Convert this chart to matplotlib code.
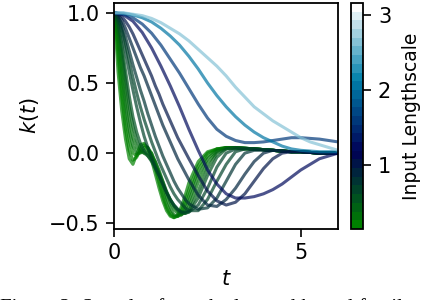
import matplotlib
matplotlib.use("Agg")
import matplotlib.pyplot as plt
from matplotlib.colors import Normalize
from matplotlib.cm import ScalarMappable

# sample times (fine grid for the fast-decaying curves, coarse for the smooth ones)
T_FINE = [0.0, 0.1, 0.2, 0.3, 0.4, 0.5, 0.6, 0.7, 0.8, 0.9, 1.0, 1.1, 1.2, 1.3, 1.4, 1.5, 1.6, 1.7,
          1.8, 1.9, 2.0, 2.25, 2.5, 2.75, 3.0, 3.25, 3.5, 3.75, 4.0, 4.25, 4.5, 4.75, 5.0, 5.25,
          5.5, 5.75, 6.0]
T_SMOOTH = [0.0, 0.25, 0.5, 0.75, 1.0, 1.25, 1.5, 1.75, 2.0, 2.25, 2.5, 2.75, 3.0, 3.25, 3.5, 3.75,
            4.0, 4.25, 4.5, 4.75, 5.0, 5.25, 5.5, 5.75, 6.0]

# short lengthscales (green bundle + transition curves), on T_FINE
FINE_LS = [0.18, 0.22, 0.26, 0.30, 0.35, 0.42, 0.50, 0.62, 0.70, 0.80, 0.90, 1.00]
FINE_K = [
    [1.00, 0.58, 0.30, 0.10, -0.04, -0.08, -0.01, 0.06, 0.07, 0.03, -0.05, -0.15, -0.25, -0.34, -0.41,
     -0.45, -0.46, -0.44, -0.38, -0.30, -0.21, -0.06, 0.01, 0.03, 0.035, 0.035, 0.03, 0.03, 0.025,
     0.02, 0.015, 0.01, 0.01, 0.005, 0.0, 0.0, 0.0],
    [1.00, 0.70, 0.40, 0.17, 0.02, -0.05, -0.03, 0.03, 0.06, 0.04, -0.02, -0.11, -0.21, -0.31, -0.39,
     -0.44, -0.46, -0.45, -0.41, -0.34, -0.26, -0.09, 0.0, 0.03, 0.04, 0.035, 0.03, 0.03, 0.025,
     0.02, 0.015, 0.01, 0.01, 0.005, 0.0, 0.0, 0.0],
    [1.00, 0.78, 0.49, 0.25, 0.09, 0.0, -0.02, 0.01, 0.04, 0.04, 0.0, -0.08, -0.17, -0.27, -0.36,
     -0.42, -0.45, -0.45, -0.43, -0.37, -0.30, -0.12, -0.02, 0.03, 0.04, 0.04, 0.035, 0.03, 0.025,
     0.02, 0.015, 0.01, 0.01, 0.005, 0.0, 0.0, 0.0],
    [1.00, 0.84, 0.58, 0.34, 0.16, 0.05, 0.0, 0.0, 0.02, 0.02, 0.0, -0.06, -0.14, -0.23, -0.32,
     -0.39, -0.44, -0.45, -0.44, -0.40, -0.34, -0.16, -0.04, 0.02, 0.04, 0.04, 0.035, 0.03, 0.025,
     0.02, 0.015, 0.01, 0.01, 0.005, 0.0, 0.0, 0.0],
    [1.00, 0.88, 0.66, 0.43, 0.24, 0.11, 0.04, 0.01, 0.0, 0.0, -0.02, -0.06, -0.12, -0.20, -0.28,
     -0.35, -0.40, -0.43, -0.44, -0.42, -0.38, -0.21, -0.07, 0.01, 0.04, 0.04, 0.035, 0.03, 0.025,
     0.02, 0.015, 0.01, 0.01, 0.005, 0.0, 0.0, 0.0],
    [1.00, 0.91, 0.73, 0.52, 0.33, 0.19, 0.09, 0.03, 0.0, -0.02, -0.05, -0.09, -0.14, -0.20, -0.27,
     -0.33, -0.38, -0.41, -0.43, -0.43, -0.41, -0.27, -0.11, 0.0, 0.03, 0.04, 0.035, 0.03, 0.025,
     0.02, 0.015, 0.01, 0.01, 0.005, 0.0, 0.0, 0.0],
    [1.00, 0.93, 0.78, 0.59, 0.41, 0.26, 0.15, 0.07, 0.02, -0.02, -0.06, -0.11, -0.16, -0.22, -0.28,
     -0.33, -0.37, -0.40, -0.42, -0.43, -0.42, -0.32, -0.16, -0.03, 0.03, 0.04, 0.035, 0.03, 0.025,
     0.02, 0.015, 0.01, 0.01, 0.005, 0.0, 0.0, 0.0],
    [1.00, 0.96, 0.86, 0.72, 0.58, 0.45, 0.33, 0.22, 0.12, 0.04, -0.03, -0.10, -0.16, -0.22, -0.28,
     -0.33, -0.37, -0.40, -0.42, -0.42, -0.42, -0.37, -0.25, -0.10, 0.0, 0.03, 0.03, 0.03, 0.025,
     0.02, 0.015, 0.01, 0.01, 0.005, 0.0, 0.0, 0.0],
    [1.00, 0.97, 0.89, 0.78, 0.66, 0.54, 0.43, 0.33, 0.24, 0.16, 0.08, 0.01, -0.06, -0.12, -0.18,
     -0.24, -0.29, -0.33, -0.36, -0.39, -0.41, -0.41, -0.33, -0.20, -0.08, 0.01, 0.03, 0.03, 0.025,
     0.02, 0.015, 0.01, 0.01, 0.005, 0.0, 0.0, 0.0],
    [1.00, 0.98, 0.92, 0.83, 0.73, 0.63, 0.54, 0.45, 0.37, 0.28, 0.20, 0.12, 0.05, -0.02, -0.08,
     -0.14, -0.20, -0.25, -0.29, -0.33, -0.36, -0.40, -0.39, -0.32, -0.20, -0.08, 0.0, 0.02, 0.02,
     0.02, 0.015, 0.01, 0.01, 0.005, 0.0, 0.0, 0.0],
    [1.00, 0.99, 0.95, 0.89, 0.82, 0.75, 0.68, 0.61, 0.55, 0.48, 0.41, 0.34, 0.27, 0.20, 0.14, 0.08,
     0.02, -0.04, -0.09, -0.14, -0.19, -0.30, -0.37, -0.38, -0.33, -0.25, -0.15, -0.06, 0.0, 0.02,
     0.015, 0.01, 0.01, 0.005, 0.0, 0.0, 0.0],
    [1.00, 0.995, 0.975, 0.94, 0.90, 0.85, 0.79, 0.73, 0.67, 0.61, 0.55, 0.48, 0.42, 0.35, 0.29, 0.23,
     0.17, 0.11, 0.06, 0.01, -0.04, -0.16, -0.27, -0.34, -0.37, -0.35, -0.29, -0.20, -0.11, -0.04,
     0.0, 0.01, 0.01, 0.005, 0.0, 0.0, 0.0],
]

# long lengthscales (blue curves), on T_SMOOTH
SMOOTH_LS = [1.25, 1.63, 2.08, 2.68]
SMOOTH_K = [
    [1.0, 0.985, 0.94, 0.86, 0.75, 0.62, 0.48, 0.33, 0.17, 0.02, -0.12, -0.22, -0.29, -0.32, -0.32,
     -0.31, -0.29, -0.26, -0.22, -0.17, -0.12, -0.08, -0.04, -0.02, 0.0],
    [1.0, 0.99, 0.965, 0.92, 0.855, 0.77, 0.67, 0.57, 0.46, 0.35, 0.25, 0.17, 0.12, 0.09, 0.075,
     0.075, 0.08, 0.09, 0.10, 0.11, 0.11, 0.105, 0.10, 0.09, 0.08],
    [1.0, 0.997, 0.985, 0.965, 0.935, 0.89, 0.835, 0.77, 0.69, 0.60, 0.50, 0.41, 0.33, 0.26, 0.20,
     0.15, 0.11, 0.08, 0.05, 0.03, 0.02, 0.015, 0.01, 0.01, 0.01],
    [1.0, 1.0, 0.99, 0.98, 0.96, 0.93, 0.89, 0.85, 0.80, 0.74, 0.68, 0.62, 0.55, 0.47, 0.40, 0.33,
     0.28, 0.23, 0.19, 0.15, 0.11, 0.08, 0.06, 0.04, 0.02],
]

LS_MIN, LS_MAX = 0.15, 3.16
CAPTION = "Figure 2: Samples from the learned kernel family"

cmap = plt.get_cmap("ocean", 26)
norm = Normalize(LS_MIN, LS_MAX)

fig = plt.figure(figsize=(4.28, 3.0), dpi=100)
ax = fig.add_axes([0.267, 0.237, 0.523, 0.753])
cax = fig.add_axes([0.821, 0.237, 0.028, 0.753])

for ls, k in zip(FINE_LS, FINE_K):
    ax.plot(T_FINE, k, color=cmap(norm(ls)), lw=2.2, alpha=0.7, solid_capstyle="butt")
for ls, k in zip(SMOOTH_LS, SMOOTH_K):
    ax.plot(T_SMOOTH, k, color=cmap(norm(ls)), lw=2.2, alpha=0.7, solid_capstyle="butt")

ax.set_xlim(0, 6)
ax.set_ylim(-0.54, 1.07)
ax.set_xticks([0, 5])
ax.set_yticks([-0.5, 0.0, 0.5, 1.0])
ax.tick_params(labelsize=15, length=5.5, width=1.2, pad=5)
for s in ax.spines.values():
    s.set_linewidth(1.3)
ax.set_xlabel("$t$", fontsize=15, labelpad=4)
ax.set_ylabel("$k(t)$", fontsize=15, labelpad=6)

sm = ScalarMappable(norm=norm, cmap=cmap)
cb = fig.colorbar(sm, cax=cax, ticks=[1, 2, 3])
cb.outline.set_linewidth(1.3)
cb.ax.tick_params(labelsize=15, length=5.5, width=1.2, pad=5)
cb.set_label("Input Lengthscale", fontsize=13.5, labelpad=8)

# caption of the paper figure, cut by the bottom edge as in the source crop
fig.text(0.0, 1 - 298 / 300, CAPTION, fontsize=15, family="Liberation Serif", va="top", ha="left")

fig.savefig("out.png", dpi=100)
